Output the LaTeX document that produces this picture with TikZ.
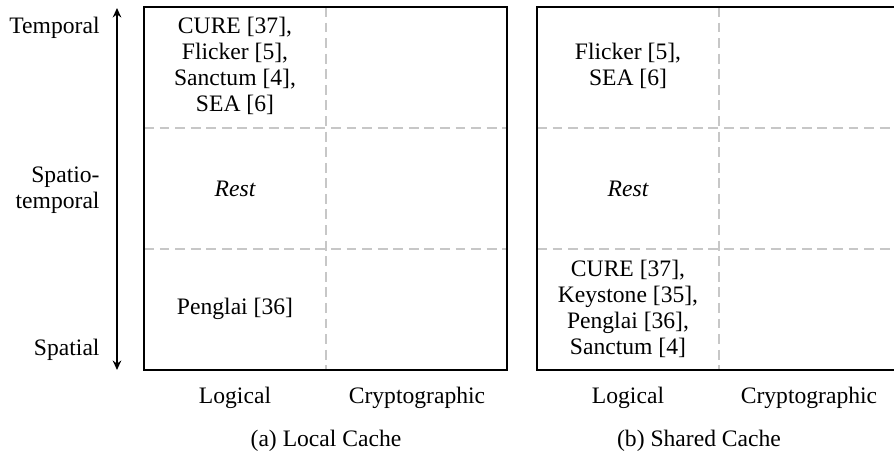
\documentclass[tikz,border=0pt]{standalone}
\usepackage{fontspec}
\setmainfont{Liberation Serif}
\usetikzlibrary{arrows.meta}
\begin{document}
\begin{tikzpicture}[x=0.4237pt,y=-0.4237pt,
  txt/.style={font=\fontsize{10}{11}\selectfont, inner sep=0pt, align=center},
  frame/.style={line width=0.6pt},
  grid/.style={draw=black!22, line width=0.45pt, dash pattern=on 4.2pt off 2.4pt},
  axis/.style={line width=0.9pt, {Stealth[length=4pt,width=3.6pt]}-{Stealth[length=4pt,width=3.6pt]}}]
\useasboundingbox (0,0) rectangle (894,457);
% left panel
\draw[grid] (326,7) -- (326,370);
\draw[grid] (144,128) -- (507,128);
\draw[grid] (144,249) -- (507,249);
\draw[frame] (144,7) rectangle (507,370);
% right panel
\draw[grid] (719,7) -- (719,370);
\draw[grid] (537,128) -- (900,128);
\draw[grid] (537,249) -- (900,249);
\draw[frame] (537,7) rectangle (900,370);
% axis
\coordinate (atop) at (117,8);
\coordinate (abot) at (117,370);
\draw[axis] (atop) -- (abot);
\node[txt, anchor=base east] (ltemp) at (100,34) {Temporal};
\node[txt, anchor=east, align=right] (lst) at (100,190) {Spatio-\\temporal};
\node[txt, anchor=base east] (lsp) at (100,355) {Spatial};
% left cells
\node[txt] (a11) at (235,66) {CURE [37],\\Flicker [5],\\Sanctum [4],\\SEA [6]};
\node[txt] (a21) at (235,188.5) {\itshape Rest};
\node[txt] (a31) at (235,309) {Penglai [36]};
% right cells
\node[txt] (b11) at (628,66) {Flicker [5],\\SEA [6]};
\node[txt] (b21) at (628,188.5) {\itshape Rest};
\node[txt] (b31) at (628,309) {CURE [37],\\Keystone [35],\\Penglai [36],\\Sanctum [4]};
% column labels
\node[txt] (alog) at (235,398) {Logical};
\node[txt] (acry) at (417,398) {Cryptographic};
\node[txt] (blog) at (628,398) {Logical};
\node[txt] (bcry) at (809,398) {Cryptographic};
% captions
\node[txt] (capa) at (326,441) {(a) Local Cache};
\node[txt] (capb) at (699,441) {(b) Shared Cache};
\end{tikzpicture}
\end{document}
